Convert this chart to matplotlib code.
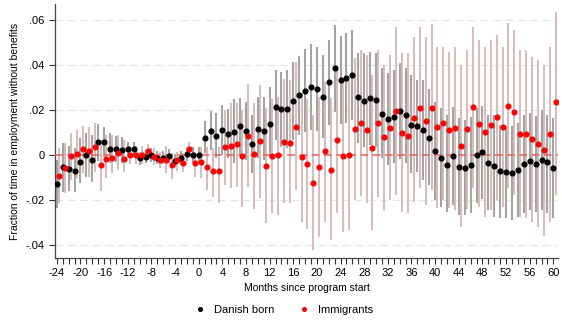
import numpy as np
import matplotlib
matplotlib.use("Agg")
import matplotlib.pyplot as plt
from matplotlib.lines import Line2D

plt.rcParams['font.family'] = ['Liberation Sans', 'DejaVu Sans']
plt.rcParams['axes.unicode_minus'] = False

# months relative to program start
months = list(range(-24, 61))

# Danish born: point estimate and 95% CI bounds
danish = [-0.0129, -0.0055, -0.0061, -0.0071, -0.0030, -0.0001, -0.0024, 0.0058, 0.0058, 0.0028,
          0.0028, 0.0023, 0.0027, 0.0027, -0.0013, -0.0007, 0.0000, -0.0012, -0.0012, -0.0004,
          -0.0025, -0.0013, 0.0004, 0.0000, 0.0000, 0.0077, 0.0107, 0.0084, 0.0111, 0.0092,
          0.0104, 0.0129, 0.0108, 0.0049, 0.0117, 0.0107, 0.0138, 0.0215, 0.0204, 0.0203,
          0.0240, 0.0267, 0.0286, 0.0304, 0.0292, 0.0256, 0.0323, 0.0385, 0.0333, 0.0341,
          0.0354, 0.0256, 0.0240, 0.0252, 0.0246, 0.0184, 0.0161, 0.0170, 0.0194, 0.0176,
          0.0135, 0.0129, 0.0113, 0.0077, 0.0016, -0.0012, -0.0043, -0.0004, -0.0055, -0.0056,
          -0.0044, 0.0000, 0.0012, -0.0036, -0.0050, -0.0073, -0.0076, -0.0079, -0.0068, -0.0040,
          -0.0028, -0.0040, -0.0024, -0.0033, -0.0059]
danish_lo = [-0.0237, -0.0163, -0.0160, -0.0163, -0.0123, -0.0096, -0.0119, -0.0025, -0.0007, -0.0037,
             -0.0030, -0.0037, -0.0007, -0.0007, -0.0044, -0.0037, -0.0030, -0.0042, -0.0042, -0.0035,
             -0.0055, -0.0044, -0.0025, -0.0037, -0.0037, 0.0007, 0.0022, -0.0015, 0.0000, -0.0015,
             -0.0037, 0.0003, -0.0022, -0.0081, -0.0015, -0.0022, -0.0007, 0.0067, 0.0037, 0.0030,
             0.0067, 0.0089, 0.0104, 0.0111, 0.0108, 0.0074, 0.0133, 0.0193, 0.0138, 0.0141,
             0.0156, 0.0052, 0.0037, 0.0044, 0.0037, -0.0015, -0.0044, -0.0037, -0.0019, -0.0037,
             -0.0081, -0.0074, -0.0111, -0.0133, -0.0200, -0.0230, -0.0252, -0.0222, -0.0267, -0.0267,
             -0.0259, -0.0215, -0.0197, -0.0244, -0.0274, -0.0281, -0.0281, -0.0289, -0.0274, -0.0256,
             -0.0244, -0.0252, -0.0244, -0.0256, -0.0281]
danish_hi = [-0.0022, 0.0052, 0.0040, 0.0030, 0.0074, 0.0096, 0.0089, 0.0138, 0.0126, 0.0096,
             0.0084, 0.0081, 0.0059, 0.0059, 0.0015, 0.0022, 0.0030, 0.0018, 0.0018, 0.0027,
             0.0005, 0.0018, 0.0033, 0.0037, 0.0037, 0.0151, 0.0196, 0.0185, 0.0222, 0.0203,
             0.0249, 0.0252, 0.0237, 0.0178, 0.0259, 0.0259, 0.0301, 0.0378, 0.0370, 0.0378,
             0.0415, 0.0440, 0.0470, 0.0492, 0.0481, 0.0444, 0.0511, 0.0578, 0.0529, 0.0541,
             0.0556, 0.0452, 0.0452, 0.0459, 0.0452, 0.0385, 0.0363, 0.0378, 0.0407, 0.0385,
             0.0356, 0.0333, 0.0333, 0.0292, 0.0237, 0.0207, 0.0178, 0.0215, 0.0163, 0.0156,
             0.0167, 0.0207, 0.0218, 0.0178, 0.0178, 0.0133, 0.0129, 0.0129, 0.0141, 0.0178,
             0.0185, 0.0173, 0.0200, 0.0178, 0.0163]

# Immigrants: point estimate and 95% CI bounds
immig = [-0.0093, -0.0058, -0.0004, 0.0006, 0.0027, 0.0019, 0.0034, -0.0044, -0.0016, -0.0013,
         0.0007, -0.0019, 0.0000, 0.0000, 0.0000, 0.0016, -0.0007, -0.0024, -0.0022, -0.0046,
         -0.0024, -0.0037, 0.0027, -0.0037, -0.0031, -0.0052, -0.0073, -0.0073, 0.0034, 0.0040,
         0.0049, -0.0006, 0.0086, 0.0006, 0.0061, -0.0047, -0.0004, -0.0001, 0.0059, 0.0055,
         0.0126, -0.0007, -0.0039, -0.0124, -0.0053, 0.0016, -0.0067, 0.0067, -0.0004, 0.0000,
         0.0116, 0.0144, 0.0111, 0.0031, 0.0141, 0.0079, 0.0121, 0.0196, 0.0099, 0.0084,
         0.0164, 0.0210, 0.0150, 0.0209, 0.0123, 0.0141, 0.0113, 0.0119, 0.0039, 0.0116,
         0.0215, 0.0138, 0.0101, 0.0133, 0.0167, 0.0124, 0.0219, 0.0190, 0.0093, 0.0092,
         0.0070, 0.0050, 0.0021, 0.0092, 0.0237]
immig_lo = [-0.0215, -0.0167, -0.0111, -0.0104, -0.0081, -0.0096, -0.0074, -0.0159, -0.0104, -0.0081,
            -0.0067, -0.0074, -0.0040, -0.0040, -0.0040, -0.0019, -0.0045, -0.0059, -0.0081, -0.0108,
            -0.0070, -0.0074, -0.0007, -0.0096, -0.0104, -0.0156, -0.0185, -0.0212, -0.0133, -0.0148,
            -0.0141, -0.0230, -0.0141, -0.0241, -0.0190, -0.0301, -0.0259, -0.0267, -0.0215, -0.0212,
            -0.0156, -0.0296, -0.0330, -0.0422, -0.0366, -0.0296, -0.0378, -0.0259, -0.0341, -0.0333,
            -0.0200, -0.0182, -0.0215, -0.0333, -0.0185, -0.0244, -0.0200, -0.0178, -0.0252, -0.0259,
            -0.0207, -0.0148, -0.0222, -0.0156, -0.0237, -0.0200, -0.0237, -0.0244, -0.0319, -0.0241,
            -0.0148, -0.0230, -0.0274, -0.0244, -0.0200, -0.0230, -0.0148, -0.0178, -0.0274, -0.0281,
            -0.0296, -0.0319, -0.0360, -0.0296, -0.0178]
immig_hi = [0.0030, 0.0052, 0.0096, 0.0111, 0.0129, 0.0126, 0.0144, 0.0067, 0.0089, 0.0089,
            0.0089, 0.0067, 0.0040, 0.0040, 0.0040, 0.0049, 0.0030, 0.0015, 0.0040, 0.0007,
            0.0015, 0.0007, 0.0059, 0.0015, 0.0037, 0.0037, 0.0030, 0.0037, 0.0200, 0.0230,
            0.0230, 0.0200, 0.0314, 0.0230, 0.0311, 0.0207, 0.0249, 0.0259, 0.0336, 0.0333,
            0.0412, 0.0274, 0.0247, 0.0178, 0.0259, 0.0326, 0.0252, 0.0378, 0.0319, 0.0333,
            0.0430, 0.0467, 0.0444, 0.0356, 0.0467, 0.0400, 0.0444, 0.0570, 0.0452, 0.0452,
            0.0526, 0.0570, 0.0526, 0.0582, 0.0481, 0.0481, 0.0459, 0.0481, 0.0400, 0.0467,
            0.0570, 0.0511, 0.0481, 0.0511, 0.0533, 0.0481, 0.0588, 0.0556, 0.0467, 0.0467,
            0.0434, 0.0422, 0.0400, 0.0481, 0.0637]

x = np.array(months)
x_imm = x + 0.4  # immigrants drawn slightly to the right

fig = plt.figure(figsize=(5.62, 3.23), dpi=100)
ax = fig.add_axes([0.098, 0.201, 0.895, 0.787])

# confidence intervals
ax.vlines(x, danish_lo, danish_hi, color='#a4a4a4', linewidth=1.5, zorder=2)
ax.vlines(x_imm, immig_lo, immig_hi, color='#d9bdbd', linewidth=1.5, zorder=1)

# reference line at zero
ax.axhline(0, color='#e8605c', linestyle=(0, (5, 3)), linewidth=1.1, zorder=3)

# point estimates
ax.plot(x, danish, 'o', color='black', markersize=3.4, zorder=4)
ax.plot(x_imm, immig, 'o', color='#ff0000', markersize=3.4, zorder=4)

ax.set_xlim(-24.3, 60.8)
ax.set_ylim(-0.0458, 0.0672)

yticks = [-0.04, -0.02, 0, 0.02, 0.04, 0.06]
ylabels = ['-.04', '-.02', '0', '.02', '.04', '.06']
ax.set_yticks(yticks)
ax.set_yticklabels(ylabels)
for yt in yticks:
    if yt != 0:
        ax.axhline(yt, color='#e4e4e4', linestyle=(0, (6, 4)), linewidth=0.9, zorder=0)

ax.set_xticks(range(-24, 61, 4))
ax.set_xticks(range(-24, 61), minor=True)
ax.tick_params(axis='both', which='both', direction='out', colors='#333333',
               labelcolor='black', labelsize=8, width=0.8)
ax.tick_params(axis='x', which='both', length=4)
ax.tick_params(axis='y', length=4)

for side in ['top', 'right']:
    ax.spines[side].set_visible(False)
for side in ['left', 'bottom']:
    ax.spines[side].set_color('#444444')
    ax.spines[side].set_linewidth(0.9)

ax.set_xlabel('Months since program start', fontsize=7.5, labelpad=3)
ax.set_ylabel('Fraction of time in employment without benefits', fontsize=7.5, labelpad=4)

handles = [Line2D([], [], marker='o', linestyle='', color='black', markersize=2.6),
           Line2D([], [], marker='o', linestyle='', color='#ff0000', markersize=2.6)]
fig.legend(handles, ['Danish born', 'Immigrants'], loc='center', bbox_to_anchor=(0.5, 0.04),
           ncol=2, frameon=False, fontsize=8, handletextpad=0.3, columnspacing=1.6)

fig.savefig('out.png', dpi=100)
